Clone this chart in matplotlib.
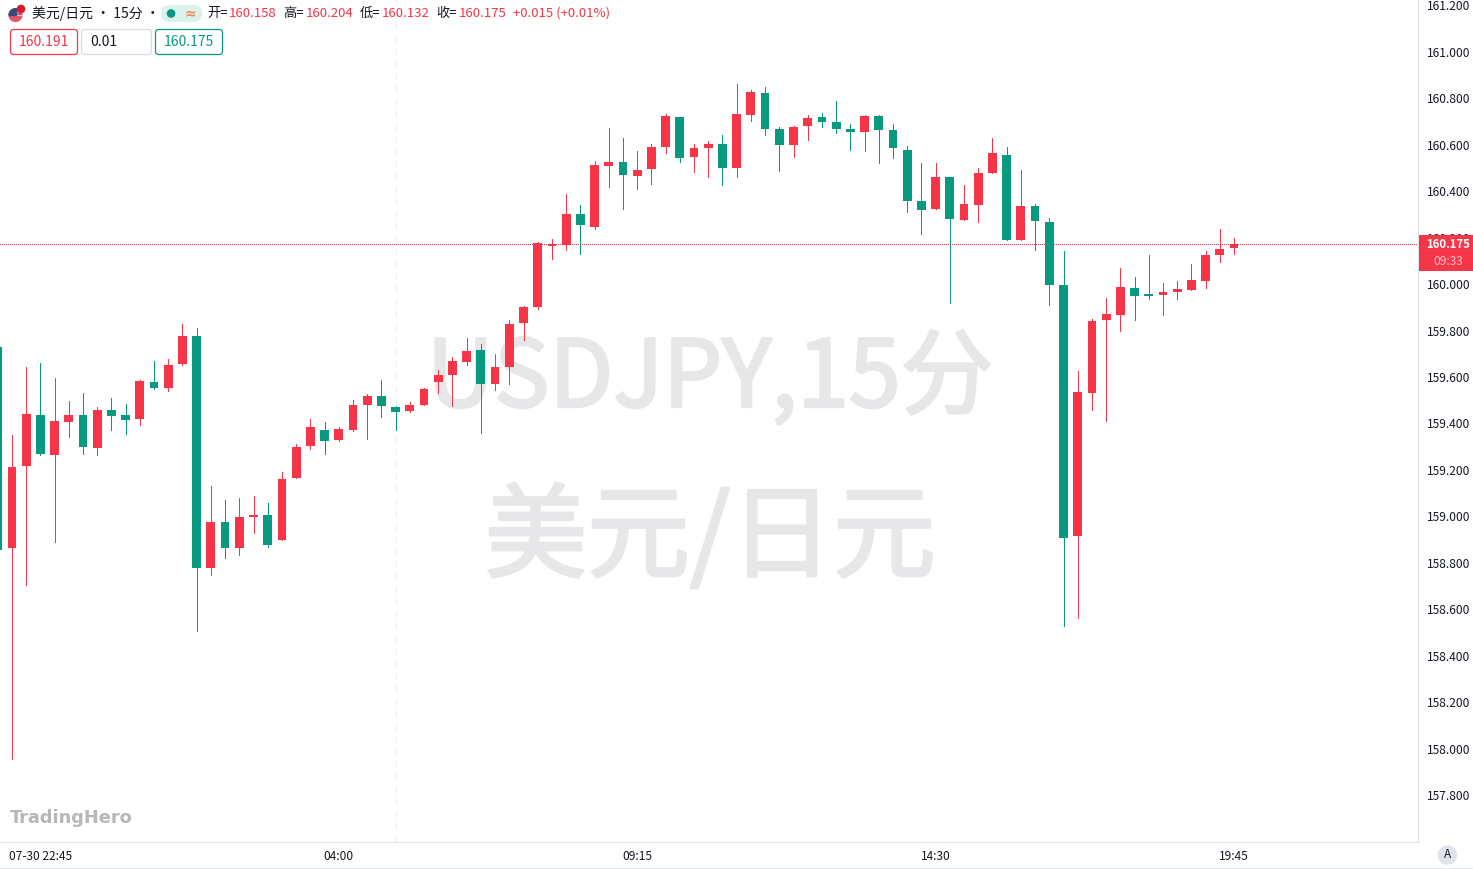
import matplotlib
matplotlib.use('Agg')
import matplotlib.pyplot as plt
import matplotlib.patheffects as pe
from matplotlib.patches import Circle, FancyBboxPatch, Rectangle
from matplotlib.transforms import ScaledTranslation

plt.rcParams['font.family'] = ['Noto Sans CJK SC', 'DejaVu Sans']

# 15 minute candles
opens = [159.733, 158.868, 159.221, 159.440, 159.268, 159.410, 159.440, 159.298, 159.462, 159.440, 159.423,
         159.583, 159.557, 159.660, 159.780, 158.782, 158.980, 158.868, 159.001, 159.010, 158.902, 159.169,
         159.307, 159.376, 159.333, 159.376, 159.484, 159.522, 159.475, 159.458, 159.484, 159.583, 159.613,
         159.669, 159.720, 159.574, 159.647, 159.836, 159.905, 160.168, 160.172, 160.306, 160.250, 160.512,
         160.529, 160.469, 160.499, 160.594, 160.723, 160.551, 160.590, 160.607, 160.504, 160.732, 160.826,
         160.671, 160.603, 160.684, 160.723, 160.702, 160.671, 160.659, 160.727, 160.667, 160.581, 160.362,
         160.327, 160.465, 160.280, 160.344, 160.482, 160.560, 160.194, 160.340, 160.271, 160.000, 158.920,
         159.535, 159.849, 159.871, 159.987, 159.961, 159.957, 159.970, 159.978, 160.017, 160.129, 160.158]
highs = [159.733, 159.354, 159.647, 159.664, 159.600, 159.501, 159.535, 159.475, 159.514, 159.488, 159.591,
         159.673, 159.681, 159.832, 159.815, 159.135, 159.075, 159.083, 159.092, 159.062, 159.195, 159.316,
         159.423, 159.410, 159.389, 159.505, 159.531, 159.591, 159.479, 159.496, 159.557, 159.634, 159.690,
         159.772, 159.746, 159.703, 159.849, 159.910, 160.185, 160.198, 160.392, 160.344, 160.534, 160.676,
         160.633, 160.577, 160.607, 160.736, 160.723, 160.607, 160.620, 160.646, 160.865, 160.839, 160.852,
         160.680, 160.684, 160.732, 160.740, 160.792, 160.693, 160.732, 160.732, 160.693, 160.598, 160.525,
         160.525, 160.465, 160.430, 160.504, 160.633, 160.594, 160.495, 160.349, 160.288, 160.146, 159.630,
         159.854, 159.944, 160.073, 160.034, 160.129, 160.009, 160.017, 160.090, 160.146, 160.241, 160.204]
lows = [158.859, 157.960, 158.709, 159.268, 158.894, 159.346, 159.273, 159.268, 159.376, 159.359, 159.397,
        159.552, 159.544, 159.656, 158.511, 158.752, 158.825, 158.838, 158.933, 158.872, 158.902, 159.169,
        159.294, 159.273, 159.329, 159.372, 159.337, 159.432, 159.376, 159.453, 159.484, 159.535, 159.479,
        159.656, 159.363, 159.548, 159.574, 159.763, 159.897, 160.112, 160.151, 160.133, 160.241, 160.422,
        160.327, 160.413, 160.435, 160.568, 160.529, 160.486, 160.465, 160.430, 160.465, 160.706, 160.646,
        160.491, 160.551, 160.624, 160.680, 160.654, 160.581, 160.577, 160.525, 160.547, 160.314, 160.220,
        160.327, 159.923, 160.280, 160.271, 160.482, 160.194, 160.194, 160.151, 159.914, 158.532, 158.567,
        159.462, 159.415, 159.802, 159.849, 159.940, 159.871, 159.940, 159.978, 159.987, 160.099, 160.132]
closes = [158.859, 159.217, 159.445, 159.273, 159.415, 159.440, 159.303, 159.462, 159.436, 159.419, 159.587,
          159.557, 159.656, 159.780, 158.782, 158.980, 158.868, 159.001, 159.010, 158.881, 159.165, 159.303,
          159.389, 159.329, 159.380, 159.484, 159.522, 159.479, 159.453, 159.484, 159.552, 159.613, 159.673,
          159.716, 159.574, 159.647, 159.832, 159.905, 160.181, 160.176, 160.306, 160.258, 160.516, 160.529,
          160.473, 160.495, 160.594, 160.727, 160.547, 160.590, 160.607, 160.504, 160.736, 160.831, 160.671,
          160.603, 160.680, 160.719, 160.702, 160.671, 160.659, 160.727, 160.667, 160.590, 160.362, 160.323,
          160.465, 160.284, 160.349, 160.482, 160.568, 160.194, 160.340, 160.275, 160.000, 158.911, 159.539,
          159.845, 159.875, 159.991, 159.953, 159.953, 159.970, 159.983, 160.022, 160.129, 160.155, 160.175]

x_tick_pos = [3, 24, 45, 66, 87]
x_tick_labels = ['07-30 22:45', '04:00', '09:15', '14:30', '19:45']
y_ticks = [157.8, 158.0, 158.2, 158.4, 158.6, 158.8, 159.0, 159.2, 159.4, 159.6, 159.8,
           160.0, 160.2, 160.4, 160.6, 160.8, 161.0, 161.2]
marker_bar = 28

RED = '#f43648'
GREEN = '#089981'
LINE = '#e0e3eb'
DARK = '#131722'
MARK = '#e7e7e9'

fig = plt.figure(figsize=(14.73, 8.69), dpi=100)

# pixel layer behind the candles, for the watermark
back = fig.add_axes([0, 0, 1, 1], zorder=0)
back.set_xlim(0, 1473)
back.set_ylim(869, 0)
back.axis('off')
thick = [pe.withStroke(linewidth=2, foreground=MARK)]
back.text(710, 380, 'USDJPY,15分', fontsize=67, color=MARK, ha='center', va='center', path_effects=thick)
back.text(710, 540, '美元/日元', fontsize=74, color=MARK, ha='center', va='center', path_effects=thick)
back.text(10, 818, 'TradingHero', fontsize=12.8, color='#b7b7b7', fontweight='bold',
          family='DejaVu Sans', ha='left', va='center')

# main chart
ax = fig.add_axes([0, 27 / 869, 1418 / 1473, 842 / 869], zorder=1)
ax.patch.set_visible(False)

bars = range(len(opens))
colors = [RED if c >= o else GREEN for o, c in zip(opens, closes)]
wicks = ax.vlines(bars, lows, highs, colors=colors, linewidth=0.72, zorder=3)
wicks.set_antialiased(False)
ax.bar(bars, [abs(c - o) for o, c in zip(opens, closes)], bottom=[min(o, c) for o, c in zip(opens, closes)],
       width=0.62, color=colors, linewidth=0, zorder=4)

ax.axvline(marker_bar, color='#eceef2', linewidth=0.75, linestyle=(0, (6, 6)), zorder=1)
last_line = ax.axhline(closes[-1], color=RED, linewidth=0.72, linestyle=(0, (1, 2)), zorder=2)
last_line.set_antialiased(False)

ax.set_xlim(0.16, 99.946)
ax.set_ylim(157.603, 161.227)
ax.set_xticks(x_tick_pos)
ax.set_xticklabels(x_tick_labels)
ax.yaxis.tick_right()
ax.set_yticks(y_ticks)
ax.set_yticklabels([f'{v:.3f}' for v in y_ticks])
ax.tick_params(axis='y', length=0, pad=6.5, labelsize=8.6, labelcolor=DARK)
ax.tick_params(axis='x', length=0, pad=5.5, labelsize=8.6, labelcolor=DARK)
# price labels sit a pixel above their level
lift = ScaledTranslation(0, 1 / 100, fig.dpi_scale_trans)
for lab in ax.get_yticklabels():
    lab.set_transform(lab.get_transform() + lift)
for side in ('top', 'left'):
    ax.spines[side].set_visible(False)
for side in ('right', 'bottom'):
    ax.spines[side].set_color(LINE)
    ax.spines[side].set_linewidth(0.75)

# pixel layer on top: header, price tag, badge
top = fig.add_axes([0, 0, 1, 1], zorder=2)
top.set_xlim(0, 1473)
top.set_ylim(869, 0)
top.axis('off')
top.patch.set_visible(False)

top.plot([0, 1473], [867.5, 867.5], color=LINE, linewidth=0.75)

# flag icon
disc = Circle((15.5, 15), 7, color='#f4f4f6', zorder=2)
top.add_patch(disc)
for row in range(4):
    stripe = Rectangle((8, 9.5 + row * 3.2), 15, 1.7, color='#e0566a', zorder=3)
    stripe.set_clip_path(disc)
    top.add_patch(stripe)
canton = Rectangle((8, 8), 8, 7, color='#3c4a80', zorder=4)
canton.set_clip_path(disc)
top.add_patch(canton)
top.add_patch(Circle((21, 9), 3.6, color='#d8182c', zorder=5))

top.text(32, 13.5, '美元/日元 • 15分 •', fontsize=10, color=DARK, ha='left', va='center')

# market status pill
top.add_patch(FancyBboxPatch((161, 5), 41, 17, boxstyle='round,pad=0,rounding_size=8.5',
                             facecolor='#dcf0ec', edgecolor='none'))
top.add_patch(Circle((171, 13.5), 3.6, color=GREEN, zorder=3))
top.text(190.5, 13, '≈', fontsize=10, color='#f0855a', fontweight='bold', ha='center', va='center',
         family='DejaVu Sans')

legend_items = [(207, '开=', DARK), (229, '160.158', RED), (283, '高=', DARK), (306, '160.204', RED),
                (360, '低=', DARK), (382, '160.132', RED), (436, '收=', DARK), (459, '160.175', RED),
                (513, '+0.015 (+0.01%)', RED)]
for lx, label, col in legend_items:
    top.text(lx, 13.5, label, fontsize=9.5, color=col, ha='left', va='center')

# quote boxes
box_items = [(10, 67, RED, '160.191', RED, 'center'), (81, 70, '#d8dbe3', '0.01', DARK, 'left'),
             (155, 67, GREEN, '160.175', GREEN, 'center')]
for bx, bw, edge, label, col, align in box_items:
    top.add_patch(FancyBboxPatch((bx + 0.5, 29.5), bw, 25, boxstyle='round,pad=0,rounding_size=3',
                                 facecolor='white', edgecolor=edge, linewidth=0.9))
    tx = bx + bw / 2 if align == 'center' else bx + 9
    top.text(tx, 42.5, label, fontsize=10, color=col, ha=align, va='center')

# last price tag
top.add_patch(Rectangle((1419, 235), 54, 36, facecolor=RED, edgecolor='none', zorder=3))
top.plot([1419, 1473], [253, 253], color='#e63345', linewidth=0.6, zorder=4)
top.text(1448, 244, f'{closes[-1]:.3f}', fontsize=8.2, color='white', fontweight='bold',
         ha='center', va='center', zorder=5)
top.text(1448, 261.5, '09:33', fontsize=8.6, color='#fbc4ca', ha='center', va='center', zorder=5)

# auto scale badge
top.add_patch(Circle((1447.5, 855), 9, color=LINE, zorder=3))
top.text(1447.5, 855, 'A', fontsize=8.5, color=DARK, ha='center', va='center', zorder=4)

plt.savefig('out.png', dpi=100)
